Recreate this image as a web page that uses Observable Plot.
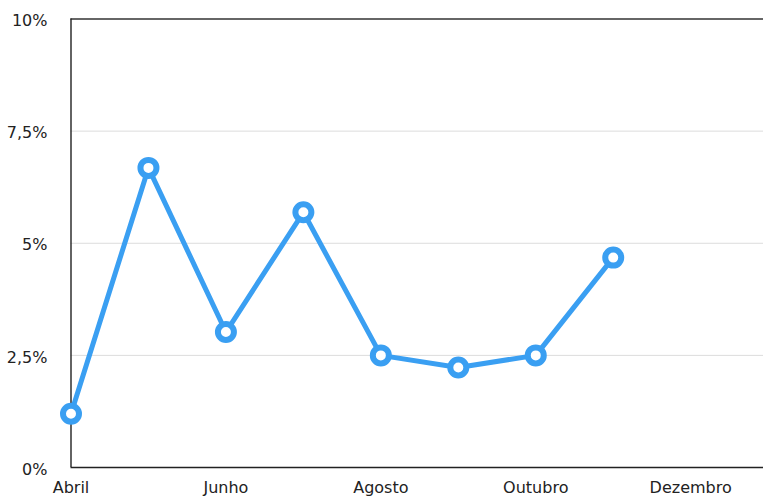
<!DOCTYPE html>
<html>
<head>
<meta charset="utf-8">
<script src="https://cdn.jsdelivr.net/npm/d3@7"></script>
<script src="https://cdn.jsdelivr.net/npm/@observablehq/plot@0.6"></script>
<style>
  html, body { margin: 0; padding: 0; background: #fff; }
  #chart svg { display: block; }
</style>
</head>
<body>
<div id="chart"></div>
<script>
const months = ["Abril", "Maio", "Junho", "Julho", "Agosto", "Setembro", "Outubro", "Novembro", "Dezembro"];
const values = [1.2, 6.68, 3.02, 5.69, 2.5, 2.23, 2.5, 4.68];
const labeledMonths = ["Abril", "Junho", "Agosto", "Outubro", "Dezembro"];
const yTicks = [0, 2.5, 5, 7.5, 10];

const data = values.map((v, i) => ({i, month: months[i], value: v}));
const xTicks = labeledMonths.map(m => months.indexOf(m));

const blue = "#3a9ff2";
const fmtY = d => String(d).replace(".", ",") + "%";

const chart = Plot.plot({
  width: 763,
  height: 498,
  marginLeft: 70.5,
  marginRight: 0,
  marginTop: 18.5,
  marginBottom: 31,
  style: {fontFamily: "'DejaVu Sans', Verdana, sans-serif", fontSize: "16px", color: "#222", background: "#fff"},
  marks: [
    Plot.gridY([2.5, 5, 7.5], {stroke: "#dcdcdc", strokeOpacity: 1, strokeWidth: 1}),
    Plot.axisX(xTicks, {tickFormat: i => months[i], tickSize: 0, tickPadding: 14.5, label: null, fill: "#222"}),
    Plot.axisY(yTicks, {tickFormat: fmtY, tickSize: 0, tickPadding: 23.5, label: null, dy: 2, fill: "#222"}),
    Plot.ruleY([10], {stroke: "#333", strokeWidth: 1.6}),
    Plot.ruleY([0], {stroke: "#222", strokeWidth: 1.4}),
    Plot.ruleX([0], {stroke: "#222", strokeWidth: 1.4}),
    Plot.line(data, {x: "i", y: "value", stroke: blue, strokeWidth: 5, strokeLinejoin: "round", strokeLinecap: "round"}),
    Plot.dot(data, {x: "i", y: "value", r: 8, fill: "white", stroke: blue, strokeWidth: 6})
  ],
  x: {type: "linear", domain: [0, 8.94]},
  y: {domain: [0, 10]}
});
document.getElementById("chart").appendChild(chart);
</script>
</body>
</html>
